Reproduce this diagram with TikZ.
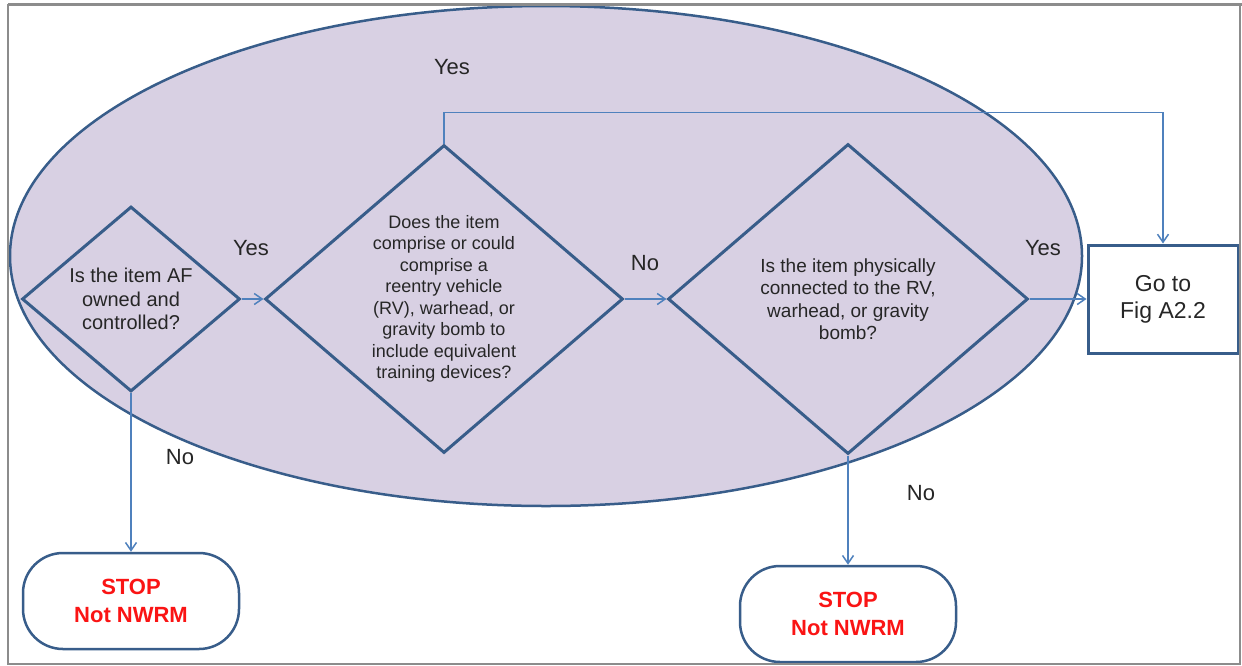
\documentclass[tikz,border=0pt]{standalone}
\usepackage{fontspec}
\setmainfont{Liberation Sans}
\usetikzlibrary{shapes.geometric, arrows.meta}
\definecolor{lila}{RGB}{216, 208, 227}
\definecolor{marino}{RGB}{56, 93, 138}
\definecolor{azul}{RGB}{79, 129, 189}
\definecolor{rojo}{RGB}{250, 20, 20}
\definecolor{gris}{RGB}{140, 140, 140}

\begin{document}
\begin{tikzpicture}[x = 1pt, y = -1pt,
	rombo/.style = {diamond, draw = marino, line width = 3pt, inner sep = -6pt, align = center, text = black!85, font = \fontsize{18}{21.5}\selectfont},
	caja/.style = {rectangle, draw = marino, line width = 3pt, fill = white, align = center, text = black!85, font = \fontsize{23}{27}\selectfont},
	fin/.style = {rectangle, rounded corners = 40pt, draw = marino, line width = 2.5pt, fill = white, align = center, text = rojo, font = \bfseries\fontsize{22}{28}\selectfont, minimum width = 216pt, minimum height = 96pt},
	flecha/.style = {azul, line width = 1.5pt, -{Straight Barb[length = 8pt, width = 11pt]}},
	etiqueta/.style = {text = black!85, font = \fontsize{22}{26}\selectfont}]
						\useasboundingbox (0,0) rectangle (1242,665);
						\fill[white] (0,0) rectangle (1242,665);
						\filldraw[fill = lila, draw = marino, line width = 2.5pt] (546,256) ellipse [x radius = 536pt, y radius = 250pt];
						\node[rombo, minimum width = 218pt, minimum height = 185pt, font = \fontsize{20}{23.5}\selectfont] (propio) at (131,299) {Is the item AF\\owned and\\controlled?};
						\node[rombo, minimum width = 358pt, minimum height = 308pt] (arma) at (444,299) {Does the item\\comprise or could\\comprise a\\reentry vehicle\\(RV), warhead, or\\gravity bomb to\\include equivalent\\training devices?};
						\node[rombo, minimum width = 360pt, minimum height = 310pt, font = \fontsize{19}{22.5}\selectfont] (unido) at (848,299) {Is the item physically\\connected to the RV,\\warhead, or gravity\\bomb?};
						\node[caja, minimum width = 150pt, minimum height = 108pt] (figura) at (1163,299) {Go to\\Fig A2.2};
						\node[fin] (alto1) at (131,601) {STOP\\Not NWRM};
						\node[fin] (alto2) at (848,614) {STOP\\Not NWRM};
						\draw[flecha] (propio.east) -- (arma.west);
						\draw[flecha] (arma.east) -- (unido.west);
						\draw[flecha] (unido.east) -- (figura.west);
						\draw[flecha] (arma.north) -- ++(0,-31) -| (figura.north);
						\draw[flecha] (propio.south) -- (alto1.north);
						\draw[flecha] (unido.south) -- (alto2.north);
						\node[etiqueta] (si1) at (452,67) {Yes};
						\node[etiqueta] (si2) at (251,248) {Yes};
						\node[etiqueta] (no1) at (645,263) {No};
						\node[etiqueta] (si3) at (1043,248) {Yes};
						\node[etiqueta] (no2) at (180,457) {No};
						\node[etiqueta] (no3) at (921,493) {No};
						\draw[gris, line width = 2pt] (8,5) rectangle (1240,664);
						\draw[gris, line width = 3pt] (8,4) -- (1242,4);
					\end{tikzpicture}
\end{document}
